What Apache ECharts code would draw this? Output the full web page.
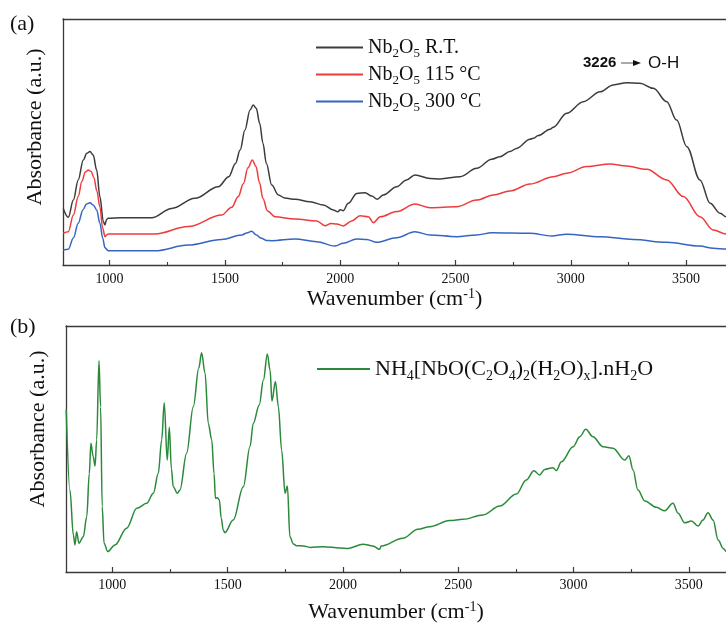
<!DOCTYPE html>
<html>
<head>
<meta charset="utf-8">
<script src="https://cdn.jsdelivr.net/npm/echarts@6/dist/echarts.min.js"></script>
<style>
  html, body { margin: 0; padding: 0; background: #fff; }
  #chart { width: 726px; height: 625px; }
</style>
</head>
<body>
<div id="chart"></div>
<script>
// Tick positions shared by both panels (cm-1)
const tickValues = [1000, 1500, 2000, 2500, 3000, 3500];
const minorTickValues = [1250, 1750, 2250, 2750, 3250];

const seriesNamesA = ['Nb2O5 R.T.', 'Nb2O5 115 °C', 'Nb2O5 300 °C'];
const seriesNameB = 'NH4[NbO(C2O4)2(H2O)x].nH2O';

// [wavenumber (cm-1), absorbance (a.u.)]
const nbRT = [
  [799,23.0],[821,19.4],[843,26.4],[864,34.6],[886,42.7],[901,45.4],[915,46.1],[929,44.7],[944,38.6],
  [958,27.8],[973,17.6],[980,16.3],[987,18.5],[994,19.0],[1050,19.2],[1183,19.2],[1269,23.0],
  [1370,27.1],[1471,31.8],[1517,35.9],[1546,41.3],[1566,46.7],[1587,54.9],[1609,63.0],[1623,65.0],
  [1636,63.7],[1651,57.6],[1665,49.5],[1680,41.3],[1703,32.5],[1732,28.5],[1760,27.2],
  [1804,26.7],[1869,25.7],[1927,24.4],[1970,22.4],[1990,21.6],[2000,22.5],[2013,22.1],[2035,25.1],
  [2072,29.1],[2108,29.4],[2137,28.0],[2161,26.7],[2187,28.5],[2245,31.8],[2288,34.6],[2324,36.6],
  [2390,35.2],[2433,35.0],[2520,35.9],[2592,39.3],[2657,43.0],[2693,44.0],[2736,46.1],[2765,47.4],
  [2823,51.1],[2837,51.5],[2859,52.6],[2910,55.2],[2924,56.0],[2982,61.7],[3054,66.4],[3127,70.4],
  [3184,73.2],[3242,74.1],[3300,73.9],[3358,71.8],[3416,66.4],[3459,58.9],[3503,48.1],[3560,34.6],
  [3604,25.1],[3648,21.0],[3673,19.6],[3700,18.6]
];
const nb115 = [
  [799,12.9],[821,13.5],[843,20.3],[864,27.8],[880,34.0],[895,37.8],[908,38.6],[920,38.0],[932,35.5],
  [945,30.0],[958,23.7],[970,15.0],[980,11.5],[987,12.2],[994,12.6],[1197,12.6],[1341,15.6],
  [1486,20.3],[1530,23.5],[1558,27.8],[1580,33.0],[1600,39.5],[1619,42.7],[1635,40.0],[1650,33.5],
  [1665,27.0],[1685,22.0],[1717,19.6],[1804,18.7],[1898,17.9],
  [1934,16.0],[1960,16.9],[1985,16.7],[2013,15.9],[2050,17.9],[2086,20.0],[2122,19.6],[2144,17.2],
  [2173,19.6],[2245,21.7],[2324,24.8],[2390,23.3],[2505,23.7],[2592,26.4],[2664,28.5],[2736,30.1],
  [2823,32.9],[2924,35.9],[2982,37.3],[3069,40.0],[3170,41.1],[3242,40.2],[3329,38.9],[3416,34.6],
  [3488,27.8],[3560,19.6],[3618,14.2],[3673,12.6],[3700,12.2]
];
const nb300 = [
  [799,6.1],[821,6.4],[843,11.0],[864,17.0],[885,22.5],[900,24.8],[915,25.3],[930,24.3],[944,22.4],
  [958,17.0],[970,11.0],[980,7.0],[994,5.8],[1197,5.8],[1341,8.1],[1486,10.4],[1573,12.2],
  [1595,13.0],[1616,13.7],[1635,12.3],[1655,11.0],[1680,10.0],[1703,9.9],[1804,10.6],[1898,9.5],
  [1978,7.7],[2013,8.8],[2072,10.6],[2115,10.4],[2158,9.2],[2245,11.1],[2324,13.5],[2390,12.2],
  [2505,11.5],[2592,12.2],[2657,13.1],[2823,12.9],[2917,11.8],[2982,12.5],[3127,11.5],[3271,10.4],
  [3416,9.2],[3560,7.7],[3618,6.8],[3673,6.5],[3700,6.4]
];
const oxalate = [
  [800,66.0],[816,33.3],[831,15.0],[838,11.0],[845,16.4],[855,11.7],[874,14.3],[889,22.5],[900,40.0],
  [907,52.3],[917,46.9],[925,43.1],[932,53.7],[942,85.9],[949,67.2],[956,26.5],[964,11.7],[980,8.3],
  [1011,11.0],[1062,17.8],[1106,25.9],[1149,27.9],[1178,32.0],[1199,40.0],[1214,53.7],[1225,68.8],
  [1238,45.5],[1247,58.8],[1256,42.0],[1264,34.7],[1282,32.0],[1293,33.3],[1322,48.3],[1351,67.2],
  [1375,83.0],[1387,89.1],[1402,80.8],[1416,60.4],[1431,53.7],[1441,40.0],[1447,30.0],[1455,30.2],
  [1464,29.3],[1472,22.0],[1481,17.0],[1488,16.0],[1524,21.1],[1568,34.7],[1597,51.0],[1611,60.4],
  [1637,67.9],[1655,78.0],[1672,88.6],[1684,82.0],[1692,69.5],[1707,77.4],[1720,67.2],[1734,49.6],
  [1749,32.0],[1759,35.0],[1770,14.3],[1785,11.4],[1799,10.7],
  [1828,10.6],[1857,10.0],[1915,10.3],[1987,9.8],[2023,9.6],[2087,11.3],[2130,10.6],[2159,9.2],
  [2166,10.6],[2260,13.7],[2325,17.4],[2376,18.4],[2463,20.9],[2521,21.4],[2607,23.2],[2680,26.8],
  [2752,31.7],[2795,37.4],[2828,41.2],[2853,39.4],[2875,41.7],[2911,42.4],[2925,41.2],[2947,44.8],
  [2998,50.9],[3027,55.0],[3053,58.0],[3084,55.0],[3128,50.9],[3171,50.3],[3222,45.5],[3240,47.3],
  [3258,41.5],[3279,33.3],[3309,28.9],[3359,26.3],[3395,24.9],[3431,27.9],[3453,23.9],[3482,20.0],
  [3511,20.7],[3540,18.7],[3561,21.1],[3583,24.1],[3605,21.1],[3627,13.0],[3649,9.6],[3662,8.3],[3700,6.0]
];

const SERIF = '"Liberation Serif", "Times New Roman", serif';
const SANS = '"Liberation Sans", Arial, sans-serif';
const AXIS_COLOR = '#3a3a3a';
const TEXT_COLOR = '#111';

// Rich-text versions of the formulas (subscripts)
const richNames = {
  'Nb2O5 R.T.': '{n|Nb}{s|2}{n|O}{s|5}{n| R.T.}',
  'Nb2O5 115 °C': '{n|Nb}{s|2}{n|O}{s|5}{n| 115 °C}',
  'Nb2O5 300 °C': '{n|Nb}{s|2}{n|O}{s|5}{n| 300 °C}',
  'NH4[NbO(C2O4)2(H2O)x].nH2O':
    '{n|NH}{s|4}{n|[NbO(C}{s|2}{n|O}{s|4}{n|)}{s|2}{n|(H}{s|2}{n|O)}{s|x}{n|].nH}{s|2}{n|O}'
};

function subRich(size) {
  return {
    n: { fontFamily: SERIF, fontSize: size, lineHeight: size + 6, color: TEXT_COLOR },
    s: { fontFamily: SERIF, fontSize: Math.round(size * 0.65), lineHeight: Math.round(size * 0.65),
         verticalAlign: 'bottom', color: TEXT_COLOR }
  };
}

const wavenumberName = '{n|Wavenumber (cm}{sup|-1}{n|)}';
const nameRich = {
  n: { fontFamily: SERIF, fontSize: 22, lineHeight: 24, color: TEXT_COLOR },
  sup: { fontFamily: SERIF, fontSize: 14, lineHeight: 14, verticalAlign: 'top', color: TEXT_COLOR }
};

function mainXAxis(gridIndex, min, max, labelMargin, nameGap) {
  return {
    type: 'value', gridIndex, min, max, position: 'bottom',
    name: wavenumberName, nameLocation: 'middle', nameGap,
    nameTextStyle: { rich: nameRich },
    axisLine: { show: true, onZero: false, lineStyle: { color: AXIS_COLOR, width: 1.3 } },
    axisTick: { show: true, inside: true, length: 5, customValues: tickValues,
                lineStyle: { color: AXIS_COLOR, width: 1.2 } },
    axisLabel: { show: true, margin: labelMargin, customValues: tickValues,
                 formatter: v => String(v),
                 fontFamily: SERIF, fontSize: 14, color: TEXT_COLOR },
    splitLine: { show: false }
  };
}
function minorXAxis(gridIndex, min, max) {
  return {
    type: 'value', gridIndex, min, max, position: 'bottom',
    axisLine: { show: false },
    axisTick: { show: true, inside: true, length: 3, customValues: minorTickValues,
                lineStyle: { color: AXIS_COLOR, width: 1.1 } },
    axisLabel: { show: false },
    splitLine: { show: false }
  };
}
function topXAxis(gridIndex, min, max) {
  return {
    type: 'value', gridIndex, min, max, position: 'top',
    axisLine: { show: true, onZero: false, lineStyle: { color: AXIS_COLOR, width: 1.3 } },
    axisTick: { show: false }, axisLabel: { show: false }, splitLine: { show: false }
  };
}
function leftYAxis(gridIndex) {
  return {
    type: 'value', gridIndex, min: 0, max: 100,
    axisLine: { show: true, onZero: false, lineStyle: { color: AXIS_COLOR, width: 1.3 } },
    axisTick: { show: false }, axisLabel: { show: false }, splitLine: { show: false }
  };
}
function spectrum(name, data, color, xAxisIndex, yAxisIndex) {
  return {
    type: 'line', name, data, xAxisIndex, yAxisIndex,
    symbol: 'none', showSymbol: false, smooth: 0.35, smoothMonotone: 'x',
    lineStyle: { color, width: 1.5 }, itemStyle: { color },
    clip: true, animation: false
  };
}

const chart = echarts.init(document.getElementById('chart'), null, { renderer: 'canvas' });

chart.setOption({
  backgroundColor: '#fff',
  animation: false,
  grid: [
    { left: 63, top: 19, right: 0, height: 246 },
    { left: 66, top: 326, right: 0, height: 246 }
  ],
  xAxis: [
    mainXAxis(0, 798, 3673, 7, 18),
    topXAxis(0, 798, 3673),
    minorXAxis(0, 798, 3673),
    mainXAxis(1, 799, 3661, 6, 28),
    topXAxis(1, 799, 3661),
    minorXAxis(1, 799, 3661)
  ],
  yAxis: [leftYAxis(0), leftYAxis(1)],
  legend: [
    {
      data: seriesNamesA, orient: 'vertical', left: 316, top: 37.5, padding: 0,
      icon: 'rect', itemWidth: 47, itemHeight: 2, itemGap: 4, selectedMode: false,
      formatter: name => richNames[name],
      textStyle: { rich: subRich(20) }
    },
    {
      data: [seriesNameB], orient: 'vertical', left: 317, top: 358, padding: 0,
      icon: 'rect', itemWidth: 53, itemHeight: 2, selectedMode: false,
      formatter: name => richNames[name],
      textStyle: { rich: subRich(22) }
    }
  ],
  series: [
    spectrum(seriesNamesA[0], nbRT, '#3c3c3c', 0, 0),
    spectrum(seriesNamesA[1], nb115, '#ef3b3b', 0, 0),
    spectrum(seriesNamesA[2], nb300, '#3565c2', 0, 0),
    spectrum(seriesNameB, oxalate, '#2b8a3a', 3, 1)
  ],
  graphic: [
    { type: 'text', x: 10, y: 24, style: { text: '(a)', font: '22px ' + SERIF, fill: TEXT_COLOR, textVerticalAlign: 'middle' } },
    { type: 'text', x: 10, y: 327, style: { text: '(b)', font: '22px ' + SERIF, fill: TEXT_COLOR, textVerticalAlign: 'middle' } },
    { type: 'text', x: 35, y: 127, rotation: Math.PI / 2,
      style: { text: 'Absorbance (a.u.)', font: '22px ' + SERIF, fill: TEXT_COLOR, textAlign: 'center', textVerticalAlign: 'middle' } },
    { type: 'text', x: 38, y: 429, rotation: Math.PI / 2,
      style: { text: 'Absorbance (a.u.)', font: '22px ' + SERIF, fill: TEXT_COLOR, textAlign: 'center', textVerticalAlign: 'middle' } },
    // O-H band annotation
    { type: 'text', x: 583, y: 63, style: { text: '3226', font: 'bold 15px ' + SANS, fill: TEXT_COLOR, textVerticalAlign: 'middle' } },
    { type: 'line', shape: { x1: 621, y1: 63, x2: 635, y2: 63 }, style: { stroke: '#555', lineWidth: 1 } },
    { type: 'polygon', shape: { points: [[633, 60], [641, 63], [633, 66]] }, style: { fill: '#111' } },
    { type: 'text', x: 648, y: 63, style: { text: 'O-H', font: '17px ' + SANS, fill: TEXT_COLOR, textVerticalAlign: 'middle' } }
  ]
});
</script>
</body>
</html>
